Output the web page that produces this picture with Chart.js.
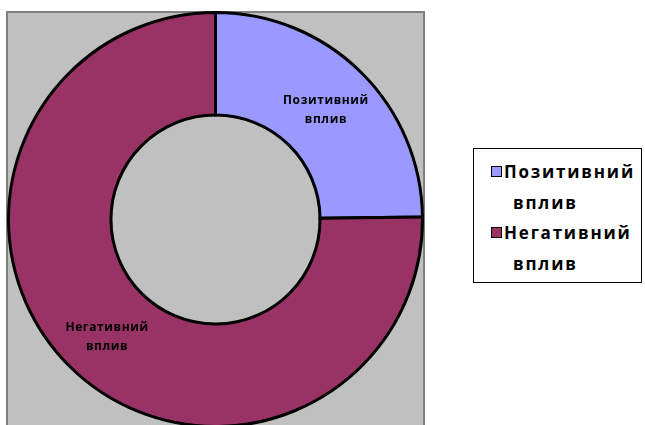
<!DOCTYPE html>
<html>
<head>
<meta charset="utf-8">
<script src="https://cdn.jsdelivr.net/npm/chart.js@4/dist/chart.umd.min.js"></script>
<style>
  body { margin: 0; background: #fff; }
  #wrap { position: relative; width: 645px; height: 425px; overflow: hidden; }
  #legend {
    position: absolute; left: 473px; top: 148px; width: 169px; height: 135px;
    border: 1px solid #000; box-sizing: border-box; background: #fff;
    font-family: "Open Sans", sans-serif; font-weight: bold; font-size: 17px; color: #000;
    letter-spacing: 1.8px;
  }
  .item { position: absolute; left: 17px; line-height: 31px; white-space: nowrap; }
  .box { display: inline-block; width: 9px; height: 9px; border: 1px solid #000; margin-right: 2px; vertical-align: 1px; }
  .second { padding-left: 22px; }
</style>
</head>
<body>
<div id="wrap">
  <canvas id="chart" width="645" height="432"></canvas>
  <div id="legend"></div>
</div>
<script>
  // Chart data
  const labels = ['Позитивний вплив', 'Негативний вплив'];
  const values = [24.8, 75.2];
  const colors = ['#9999FF', '#993366'];

  // Gray plot area behind the ring
  const plotArea = {
    id: 'plotArea',
    beforeDraw(chart) {
      const c = chart.ctx;
      const a = chart.chartArea;
      c.save();
      c.fillStyle = '#C0C0C0';
      c.fillRect(a.left, a.top + 1, a.right - a.left, 440);
      c.strokeStyle = '#808080';
      c.lineWidth = 2;
      c.strokeRect(a.left, a.top + 1, a.right - a.left, 440);
      c.restore();
    }
  };

  // Category names written inside the slices
  const sliceLabels = {
    id: 'sliceLabels',
    afterDatasetsDraw(chart) {
      const c = chart.ctx;
      const arcs = chart.getDatasetMeta(0).data;
      c.save();
      c.fillStyle = '#000';
      c.font = 'bold 12px "Open Sans", sans-serif';
      c.letterSpacing = '0.6px';
      c.textAlign = 'center';
      c.textBaseline = 'middle';
      arcs.forEach(function(arc, i) {
        const p = arc.tooltipPosition();
        const words = labels[i].split(' ');
        const dy = i === 0 ? -8 : -3;
        c.fillText(words[0], p.x + 1, p.y + dy);
        c.fillText(words[1], p.x + 1, p.y + dy + 19);
      });
      c.restore();
    }
  };

  const ctx = document.getElementById('chart').getContext('2d');
  const chart = new Chart(ctx, {
    type: 'doughnut',
    data: {
      labels: labels,
      datasets: [{
        data: values,
        backgroundColor: colors,
        borderColor: '#000',
        borderWidth: 3,
        borderJoinStyle: 'miter'
      }]
    },
    options: {
      responsive: false,
      animation: false,
      devicePixelRatio: 1,
      cutout: '50.5%',
      layout: { padding: { left: 7, top: 11, right: 221, bottom: 4 } },
      plugins: {
        legend: { display: false },
        tooltip: { enabled: false }
      }
    },
    plugins: [plotArea, sliceLabels]
  });

  // Legend built from the same arrays
  const legend = document.getElementById('legend');
  labels.forEach(function(label, i) {
    const words = label.split(' ');
    const top = i === 0 ? 7 : 68;
    legend.innerHTML +=
      '<div class="item" style="top:' + top + 'px">' +
      '<div><span class="box" style="background:' + colors[i] + '"></span>' + words[0] + '</div>' +
      '<div class="second">' + words[1] + '</div></div>';
  });
</script>
</body>
</html>
